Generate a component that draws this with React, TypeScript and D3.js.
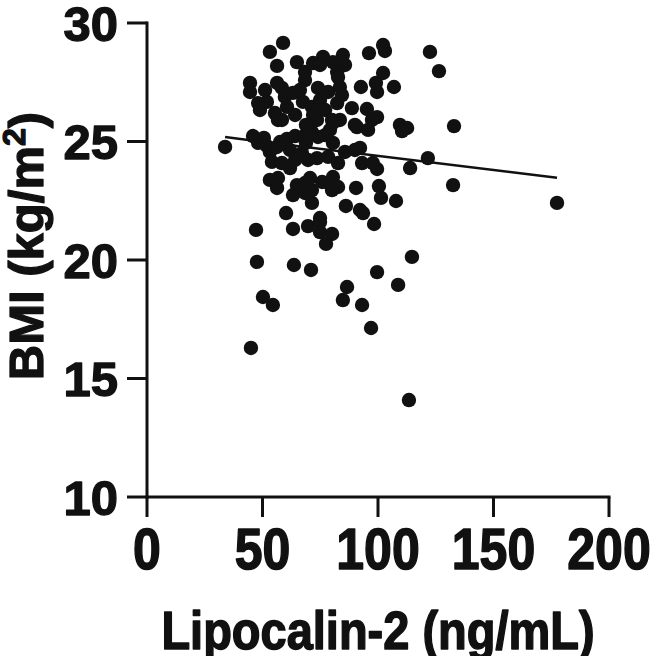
import React from "react";
import * as d3 from "d3";

// Lipocalin-2 (ng/mL) values
const lipocalin: number[] = [
  58.9, 53.2, 56.3, 64.9, 44.6, 44.6, 56.3, 58.4, 48.1, 51.9,
  48.9, 55.4, 56.7, 60.6, 59.7, 63.2, 67.5, 71.4, 68.4, 68.4,
  71.9, 76.2, 80.5, 74.0, 78.4, 71.9, 80.1, 79.2, 102.2, 103.0,
  96.1, 84.8, 82.3, 82.7, 102.2, 83.5, 84.4, 92.6, 99.1, 99.6,
  106.9, 82.3, 88.7, 95.2, 83.5, 90.0, 97.4, 99.6, 109.5, 122.5,
  126.4, 132.9, 121.6, 113.9, 132.5, 107.8, 112.6, 110.4, 90.5, 100.4,
  101.3, 86.1, 92.2, 93.5, 98.3, 93.1, 97.8, 99.6, 92.2, 90.9,
  95.7, 73.6, 80.5, 45.9, 50.6, 48.1, 51.9, 33.8, 57.6, 60.6,
  64.1, 68.0, 71.4, 74.0, 53.2, 56.3, 54.1, 58.4, 61.9, 67.1,
  69.7, 53.2, 56.7, 56.3, 63.2, 64.9, 68.4, 71.4, 71.4, 60.2,
  58.4, 78.4, 80.1, 47.2, 63.2, 69.7, 74.9, 74.9, 80.1, 77.5,
  47.6, 63.6, 71.0, 80.5, 85.7, 90.0, 77.1, 73.6, 78.4, 82.7,
  70.6, 75.8, 80.5, 82.7, 68.4, 74.9, 99.6, 108.7, 114.7, 86.6,
  84.8, 50.2, 54.5, 93.1, 97.0, 113.4, 45.0, 74.9, 74.9, 68.8,
  68.8, 61.9, 64.1, 51.1, 64.1, 77.1, 85.7, 66.2, 177.5,
];

// BMI (kg/m²) values, same order
const bmi: number[] = [
  29.16, 28.78, 28.19, 28.35, 27.47, 27.09, 27.47, 27.26, 26.62, 26.67,
  26.33, 26.2, 25.91, 26.46, 26.88, 27.05, 26.67, 26.46, 27.93, 27.59,
  28.31, 28.57, 28.35, 27.26, 27.09, 26.12, 25.91, 25.49, 29.07, 28.82,
  28.73, 28.65, 27.93, 27.72, 27.89, 27.3, 26.96, 27.3, 27.47, 27.09,
  27.3, 26.62, 26.41, 26.37, 25.91, 25.7, 25.91, 26.03, 25.7, 28.78,
  27.97, 25.65, 24.3, 23.88, 23.16, 22.49, 25.57, 25.44, 23.04, 23.12,
  22.62, 22.28, 22.11, 21.98, 21.52, 24.09, 24.09, 23.84, 24.73, 25.61,
  25.49, 25.91, 25.78, 25.23, 25.15, 24.94, 24.81, 24.77, 24.98, 25.11,
  25.23, 25.23, 25.4, 25.19, 24.56, 24.77, 24.14, 24.09, 23.88, 24.51,
  24.22, 23.38, 23.46, 23.04, 22.74, 23.16, 23.25, 22.95, 22.41, 21.98,
  25.91, 23.25, 22.95, 21.27, 21.31, 21.43, 21.6, 21.18, 21.1, 20.68,
  19.92, 19.79, 19.58, 24.94, 24.56, 24.64, 25.27, 24.3, 24.35, 24.09,
  23.46, 23.29, 23.5, 23.08, 22.83, 21.77, 19.49, 18.95, 20.13, 18.86,
  18.31, 18.44, 18.1, 18.1, 17.13, 14.09, 16.29, 26.75, 28.23, 24.94,
  25.7, 24.64, 24.22, 27.17, 26.12, 26.33, 28.23, 27.17, 22.41,
];

// Linear fit shown on the chart
const fitIntercept = 25.59;
const fitSlope = -0.01196;

const xTicks: number[] = [0, 50, 100, 150, 200];
const yTicks: number[] = [10, 15, 20, 25, 30];
const xDomain: [number, number] = [0, 200];
const yDomain: [number, number] = [10, 30];

const xTitle = "Lipocalin-2 (ng/mL)";

export default function App() {
  const W = 666;
  const H = 656;
  const x = d3.scaleLinear().domain(xDomain).range([147, 609]);
  const y = d3.scaleLinear().domain(yDomain).range([497, 23]);
  const ink = "#111111";
  const font = "'Liberation Sans', Arial, Helvetica, sans-serif";
  const tickLen = 20;
  const pts = lipocalin.map((v, i) => [v, bmi[i]] as [number, number]);
  const xMin = d3.min(lipocalin) as number;
  const xMax = d3.max(lipocalin) as number;
  const fitLine = d3.line<number>()
    .x((d) => x(d))
    .y((d) => y(fitIntercept + fitSlope * d));
  const textStroke = { stroke: ink, strokeWidth: 1.3, strokeLinejoin: "round" as const };

  return (
    <svg
      width={W}
      height={H}
      style={{ position: "absolute", left: 0, top: 0, background: "#fff" }}
      fontFamily={font}
      fontWeight="bold"
    >
      {/* points */}
      {pts.map(([a, b], i) => (
        <circle key={i} cx={x(a)} cy={y(b)} r={7.2} fill={ink} />
      ))}
      {/* fit line */}
      <path d={fitLine([xMin, xMax]) || ""} stroke={ink} strokeWidth={2.5} fill="none" />

      {/* y axis */}
      <line x1={x(0)} x2={x(0)} y1={y(30) - 1.5} y2={y(10) + 1.5} stroke={ink} strokeWidth={3} />
      {yTicks.map((t) => (
        <g key={t}>
          <line x1={x(0) - tickLen} x2={x(0)} y1={y(t)} y2={y(t)} stroke={ink} strokeWidth={3} />
          <text x={118} y={y(t) + 17.5} textAnchor="end" fontSize={49} fill={ink} {...textStroke}>
            {t}
          </text>
        </g>
      ))}
      {/* x axis */}
      <line x1={x(0) - 1.5} x2={x(200) + 1.5} y1={y(10)} y2={y(10)} stroke={ink} strokeWidth={3} />
      {xTicks.map((t) => (
        <g key={t}>
          <line x1={x(t)} x2={x(t)} y1={y(10)} y2={y(10) + tickLen} stroke={ink} strokeWidth={3} />
          <text
            transform={`translate(${x(t)},569) scale(1,1.16)`}
            textAnchor="middle"
            fontSize={50}
            fill={ink}
            {...textStroke}
          >
            {t}
          </text>
        </g>
      ))}
      {/* x title */}
      <text
        transform={`translate(378,649) scale(1,1.13)`}
        textAnchor="middle"
        fontSize={47}
        fill={ink}
        {...textStroke}
      >
        {xTitle}
      </text>
      {/* y title */}
      <text
        transform={`translate(43,246) rotate(-90)`}
        textAnchor="middle"
        fontSize={49}
        fill={ink}
        {...textStroke}
      >
        BMI (kg/m
        <tspan fontSize={32} dy={-18}>2</tspan>
        <tspan dy={18}>)</tspan>
      </text>
    </svg>
  );
}
